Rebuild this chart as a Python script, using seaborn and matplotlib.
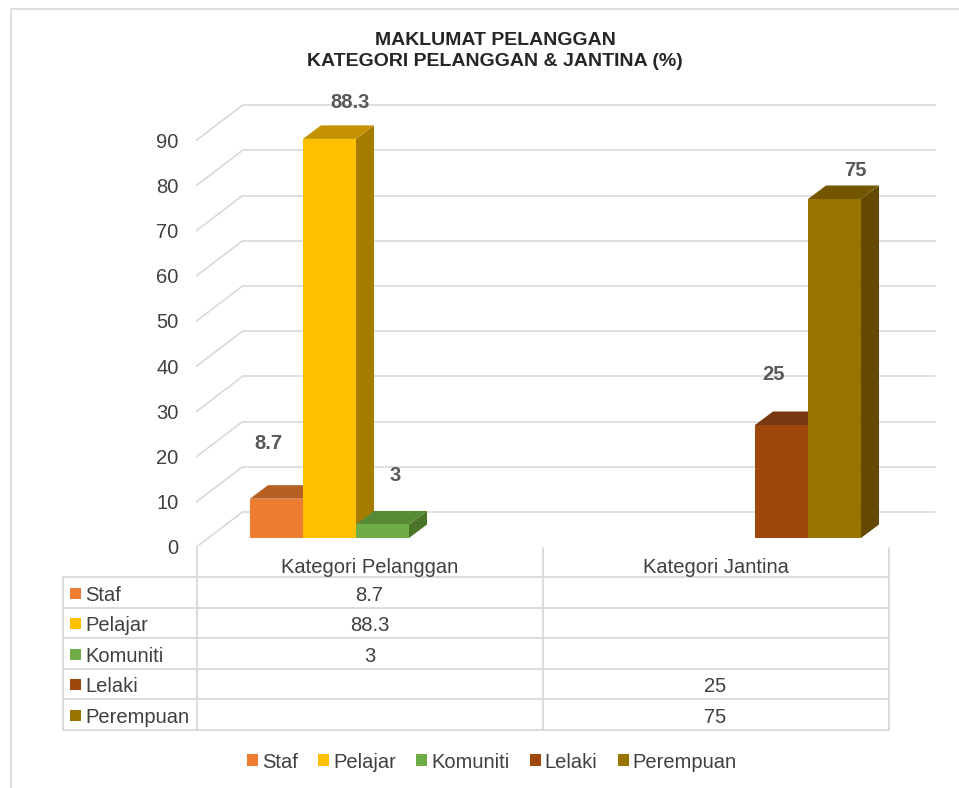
import matplotlib
matplotlib.use("Agg")
import matplotlib.pyplot as plt
import pandas as pd
import seaborn as sns
from matplotlib.patches import Polygon, Rectangle, Patch
from matplotlib.lines import Line2D
from matplotlib.transforms import IdentityTransform

# ---- data -------------------------------------------------------------
categories = ["Kategori Pelanggan", "Kategori Jantina"]
series = ["Staf", "Pelajar", "Komuniti", "Lelaki", "Perempuan"]
series_category = ["Kategori Pelanggan", "Kategori Pelanggan", "Kategori Pelanggan",
                   "Kategori Jantina", "Kategori Jantina"]
values = [8.7, 88.3, 3, 25, 75]
y_ticks = [0, 10, 20, 30, 40, 50, 60, 70, 80, 90]
title_lines = ["MAKLUMAT PELANGGAN", "KATEGORI PELANGGAN & JANTINA (%)"]

# ---- styling ----------------------------------------------------------
front_colors = ["#ED7D31", "#FFC000", "#70AD47", "#9E480E", "#997300"]
top_colors = ["#B65F24", "#C49200", "#578A34", "#7A3810", "#735700"]
side_colors = ["#A4561F", "#A57C00", "#4A7428", "#6B310A", "#634A00"]
# value-label nudges in pixels from the top-centre of each bar's front face
label_nudge = [(-8.5, 57), (21, 38), (12.5, 51), (-8.5, 53), (20.5, 30)]

GRID = "#D9D9D9"
TEXT = "#404040"
LABEL = "#595959"
FS = 14.5

W, H, DPI = 959, 788, 100
sns.set_theme(style="white")
plt.rcParams["font.family"] = ["Liberation Sans", "DejaVu Sans"]

fig = plt.figure(figsize=(W / DPI, H / DPI), dpi=DPI)
fig.patch.set_facecolor("white")
I = IdentityTransform()


def Y(y_from_top):
    return H - y_from_top


# front plane of the bars
PX_PER_UNIT = 4.52
x_left, x_right, base = 209.5, 901.5, 538
ax = fig.add_axes([x_left / W, Y(base) / H, (x_right - x_left) / W,
                   90 * PX_PER_UNIT / H])
ax.set_axis_off()

df = pd.DataFrame({"kategori": series_category, "siri": series, "nilai": values})
sns.barplot(data=df, x="kategori", y="nilai", hue="siri", order=categories,
            hue_order=series, palette=front_colors, width=0.766, dodge=True,
            saturation=1, linewidth=0, errorbar=None, legend=False, ax=ax)
ax.set_xlim(-0.5, 1.5)
ax.set_ylim(0, 90)
ax.set_autoscale_on(False)

to_disp = ax.transData.transform
FLOOR = (-13, -9)   # front edge of the floor relative to the bar plane
WALL = (33, 26)     # back wall relative to the bar plane
DEPTH = (18, 13.5)  # bar depth

# back wall gridlines, side-wall diagonals and tick labels
for v in y_ticks:
    xl, yv = to_disp((-0.5, v))
    xr, _ = to_disp((1.5, v))
    ax.add_artist(Line2D([xl + WALL[0], xr + WALL[0]], [yv + WALL[1]] * 2,
                         transform=I, color=GRID, lw=1.2, zorder=0.5, clip_on=False))
    ax.add_artist(Line2D([xl + FLOOR[0], xl + WALL[0]], [yv + FLOOR[1], yv + WALL[1]],
                         transform=I, color=GRID, lw=1.2, zorder=0.5, clip_on=False))
    fig.text(xl + FLOOR[0] - 18, yv + FLOOR[1], f"{v}", transform=I,
             ha="right", va="center_baseline", fontsize=FS, color=TEXT)

# 3-D faces and value labels for each bar
bars = sorted(ax.patches, key=lambda p: p.get_x())
for i, p in enumerate(bars):
    x0, w, h = p.get_x(), p.get_width(), p.get_height()
    X0, Yb = to_disp((x0, 0))
    X1, Yt = to_disp((x0 + w, h))
    dx, dy = DEPTH
    z = 2 + i
    p.set_zorder(z + 0.3)
    side = Polygon([(X1, Yb), (X1, Yt), (X1 + dx, Yt + dy), (X1 + dx, Yb + dy)],
                   closed=True, transform=I, facecolor=side_colors[i],
                   edgecolor="none", zorder=z, clip_on=False)
    topf = Polygon([(X0, Yt), (X1, Yt), (X1 + dx, Yt + dy), (X0 + dx, Yt + dy)],
                   closed=True, transform=I, facecolor=top_colors[i],
                   edgecolor="none", zorder=z + 0.1, clip_on=False)
    ax.add_artist(side)
    ax.add_artist(topf)
    cx = (X0 + X1) / 2
    nx, ny = label_nudge[i]
    fig.text(cx + nx, Yt + ny, f"{values[i]:g}", transform=I, ha="center",
             va="center_baseline", fontsize=FS, fontweight="bold", color=LABEL)

# ---- data table -------------------------------------------------------
col_x = [63] + [to_disp((c, 0))[0] + FLOOR[0] for c in (-0.5, 0.5, 1.5)]
head_top, row_top, row_h = 548, 577, 30.5
row_edges = [row_top + k * row_h for k in range(len(series) + 1)]

tl = dict(transform=I, color=GRID, lw=1.3, clip_on=False)
for cx_ in col_x[1:]:
    fig.add_artist(Line2D([cx_, cx_], [Y(head_top), Y(row_edges[-1])], **tl))
fig.add_artist(Line2D([col_x[0], col_x[0]], [Y(row_top), Y(row_edges[-1])], **tl))
for ry in row_edges:
    fig.add_artist(Line2D([col_x[0], col_x[-1]], [Y(ry), Y(ry)], **tl))

for j, cat in enumerate(categories):
    fig.text((col_x[j + 1] + col_x[j + 2]) / 2, Y((head_top + row_top) / 2 + 3), cat,
             transform=I, ha="center", va="center_baseline", fontsize=FS, color=TEXT)

for i, s in enumerate(series):
    ymid = Y((row_edges[i] + row_edges[i + 1]) / 2 + 1)
    fig.add_artist(Rectangle((70, ymid - 5.5), 11, 11, transform=I,
                             facecolor=front_colors[i], edgecolor="none"))
    fig.text(85, ymid, s, transform=I, ha="left", va="center_baseline",
             fontsize=FS, color=TEXT)
    j = categories.index(series_category[i])
    fig.text((col_x[j + 1] + col_x[j + 2]) / 2, ymid, f"{values[i]:g}", transform=I,
             ha="center", va="center_baseline", fontsize=FS, color=TEXT)

# ---- legend -----------------------------------------------------------
handles = [Patch(facecolor=c, edgecolor="none", label=s)
           for s, c in zip(series, front_colors)]
fig.legend(handles=handles, loc="center", bbox_to_anchor=(492 / W, Y(762) / H),
           ncol=len(series), frameon=False, fontsize=FS, handlelength=0.55,
           handleheight=0.55, handletextpad=0.2, columnspacing=1.0,
           labelcolor=TEXT, borderpad=0)

# ---- title and chart frame --------------------------------------------
fig.text(495, Y(51), "\n".join(title_lines), transform=I, ha="center", va="center",
         fontsize=14, fontweight="bold", color="#262626", linespacing=1.24)
fig.add_artist(Rectangle((11, -20), 1000, Y(9) + 20, transform=I, fill=False,
                         edgecolor=GRID, lw=1.2))

fig.savefig("out.png", dpi=DPI, facecolor="white")
